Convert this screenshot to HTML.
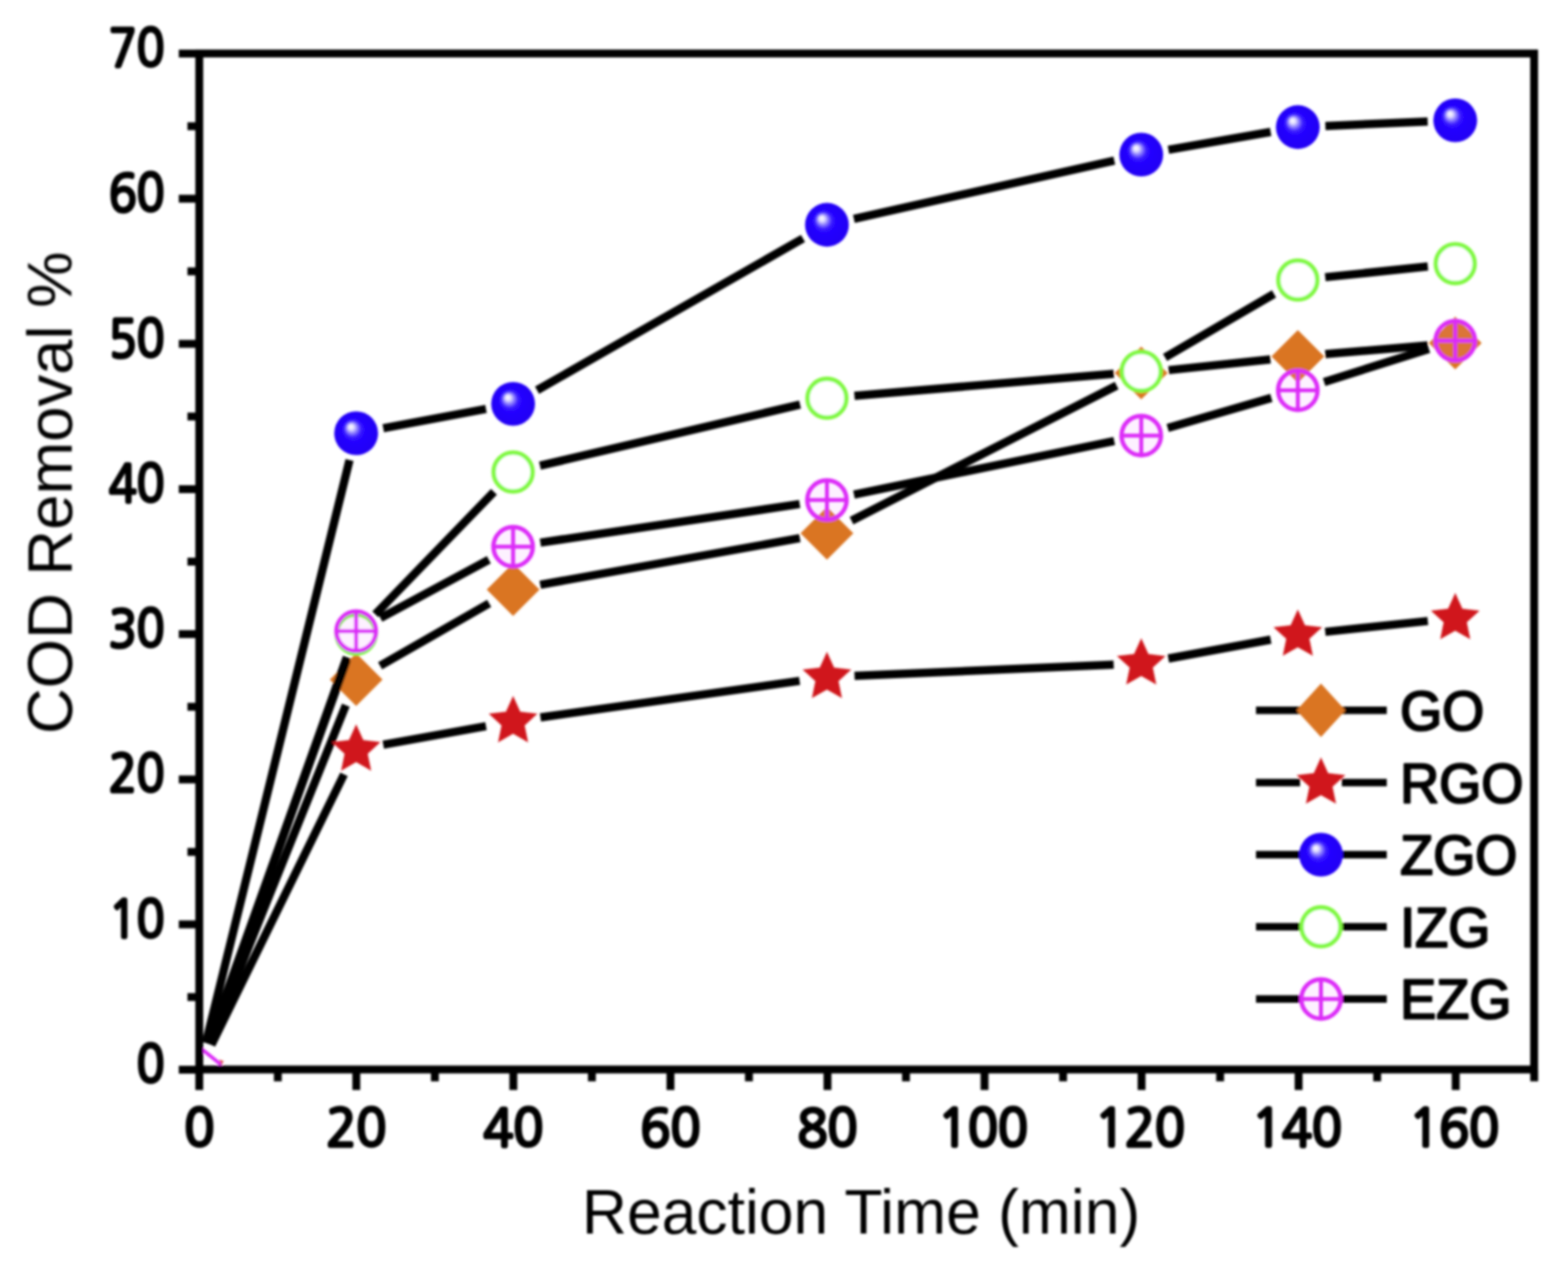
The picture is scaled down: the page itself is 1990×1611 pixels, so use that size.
<!DOCTYPE html><html><head><meta charset="utf-8"><title>COD Removal</title><style>html,body{margin:0;padding:0;background:#fff;overflow:hidden;}svg{display:block;}text{font-family:"Liberation Sans",Arial,sans-serif;}text.n{font-family:NanumGothic,"Liberation Sans",sans-serif;}</style></head><body>
<svg width="1990" height="1611" viewBox="0 0 1990 1611">
<defs><radialGradient id="sph" cx="0.5" cy="0.5" r="0.5" fx="0.37" fy="0.34" gradientUnits="objectBoundingBox"><stop offset="0" stop-color="#ffffff"/><stop offset="0.12" stop-color="#e4e0ff"/><stop offset="0.22" stop-color="#9c90ff"/><stop offset="0.38" stop-color="#3c1cff"/><stop offset="0.55" stop-color="#2200ff"/><stop offset="1" stop-color="#2000f4"/></radialGradient><filter id="soft" x="-2%" y="-2%" width="104%" height="104%"><feGaussianBlur stdDeviation="1.60"/></filter></defs>
<rect width="1990" height="1611" fill="#fff"/>
<g filter="url(#soft)">
<path d="M266.0,1325.4 L438.9,895.2 M482.4,845.3 L620.8,766.0 M685.6,742.4 L1015.1,683.1 M1080.7,661.0 L1417.2,489.5 M1483.2,469.9 L1612.3,456.3 M1682.0,449.6 L1812.0,438.4" stroke="#000" stroke-width="10.5" fill="none"/>
<path d="M452.0,829.2 L485.5,862.7 L452.0,896.2 L418.5,862.7 Z" fill="#da7422"/>
<path d="M651.2,715.1 L684.7,748.6 L651.2,782.1 L617.7,748.6 Z" fill="#da7422"/>
<path d="M1049.5,643.4 L1083.0,676.9 L1049.5,710.4 L1016.0,676.9 Z" fill="#da7422"/>
<path d="M1448.4,440.1 L1481.9,473.6 L1448.4,507.1 L1414.9,473.6 Z" fill="#da7422"/>
<path d="M1647.1,419.1 L1680.6,452.6 L1647.1,486.1 L1613.6,452.6 Z" fill="#da7422"/>
<path d="M1846.9,401.9 L1880.4,435.4 L1846.9,468.9 L1813.4,435.4 Z" fill="#da7422"/>
<path d="M268.3,1326.5 L436.6,983.0 M486.4,945.4 L616.8,921.8 M685.9,910.7 L1014.8,864.4 M1084.5,858.0 L1413.4,843.8 M1482.8,836.0 L1612.7,812.0 M1681.9,802.1 L1812.1,788.4" stroke="#000" stroke-width="10.5" fill="none"/>
<path d="M452.0,919.6 L461.1,939.6 L482.9,942.1 L466.7,956.9 L471.1,978.4 L452.0,967.6 L432.9,978.4 L437.3,956.9 L421.1,942.1 L442.9,939.6 Z" fill="#d0161b"/>
<path d="M651.2,883.6 L660.3,903.6 L682.1,906.1 L665.9,920.9 L670.3,942.4 L651.2,931.6 L632.1,942.4 L636.5,920.9 L620.3,906.1 L642.1,903.6 Z" fill="#d0161b"/>
<path d="M1049.5,827.5 L1058.6,847.5 L1080.4,850.0 L1064.2,864.8 L1068.6,886.3 L1049.5,875.5 L1030.4,886.3 L1034.8,864.8 L1018.6,850.0 L1040.4,847.5 Z" fill="#d0161b"/>
<path d="M1448.4,810.3 L1457.5,830.3 L1479.3,832.8 L1463.1,847.6 L1467.5,869.1 L1448.4,858.3 L1429.3,869.1 L1433.7,847.6 L1417.5,832.8 L1439.3,830.3 Z" fill="#d0161b"/>
<path d="M1647.1,773.7 L1656.2,793.7 L1678.0,796.2 L1661.8,811.0 L1666.2,832.5 L1647.1,821.7 L1628.0,832.5 L1632.4,811.0 L1616.2,796.2 L1638.0,793.7 Z" fill="#d0161b"/>
<path d="M1846.9,752.8 L1856.0,772.8 L1877.8,775.3 L1861.6,790.1 L1866.0,811.6 L1846.9,800.8 L1827.8,811.6 L1832.2,790.1 L1816.0,775.3 L1837.8,772.8 Z" fill="#d0161b"/>
<path d="M261.3,1323.9 L443.6,584.0 M486.4,543.6 L616.8,519.1 M681.6,495.4 L1019.1,302.7 M1083.7,277.8 L1414.2,203.9 M1482.9,190.2 L1612.6,167.5 M1682.1,159.9 L1811.9,154.3" stroke="#000" stroke-width="10.5" fill="none"/>
<circle cx="452.0" cy="550.0" r="27.8" fill="url(#sph)"/>
<circle cx="651.2" cy="512.7" r="27.8" fill="url(#sph)"/>
<circle cx="1049.5" cy="285.4" r="27.8" fill="url(#sph)"/>
<circle cx="1448.4" cy="196.3" r="27.8" fill="url(#sph)"/>
<circle cx="1647.1" cy="161.4" r="27.8" fill="url(#sph)"/>
<circle cx="1846.9" cy="152.8" r="27.8" fill="url(#sph)"/>
<path d="M264.8,1325.0 L440.1,837.9 M476.3,779.9 L626.9,624.3 M685.3,591.2 L1015.4,513.6 M1084.4,502.6 L1413.5,474.4 M1478.6,453.8 L1616.9,373.1 M1681.9,351.9 L1812.1,338.3" stroke="#000" stroke-width="10.5" fill="none"/>
<circle cx="452.0" cy="805.0" r="24.7" fill="#fff" stroke="#80f840" stroke-width="5.6"/>
<circle cx="651.2" cy="599.2" r="24.7" fill="#fff" stroke="#80f840" stroke-width="5.6"/>
<circle cx="1049.5" cy="505.6" r="24.7" fill="#fff" stroke="#80f840" stroke-width="5.6"/>
<circle cx="1448.4" cy="471.4" r="24.7" fill="#fff" stroke="#80f840" stroke-width="5.6"/>
<circle cx="1647.1" cy="355.5" r="24.7" fill="#fff" stroke="#80f840" stroke-width="5.6"/>
<circle cx="1846.9" cy="334.7" r="24.7" fill="#fff" stroke="#80f840" stroke-width="5.6"/>
<path d="M264.7,1324.9 L440.2,834.3 M482.8,784.7 L620.4,710.6 M685.8,688.9 L1014.9,639.9 M1083.8,627.8 L1414.1,559.9 M1482.0,543.2 L1613.5,505.1 M1680.5,484.9 L1813.5,443.1" stroke="#000" stroke-width="10.5" fill="none"/>
<g stroke="#dc2af8" stroke-width="5"><circle cx="452.0" cy="801.3" r="25.0" fill="rgba(235,120,255,0.10)" stroke-width="5.5"/><path d="M452.0,776.3 V826.3 M427.0,801.3 H477.0"/></g>
<g stroke="#dc2af8" stroke-width="5"><circle cx="651.2" cy="694.0" r="25.0" fill="rgba(235,120,255,0.10)" stroke-width="5.5"/><path d="M651.2,669.0 V719.0 M626.2,694.0 H676.2"/></g>
<g stroke="#dc2af8" stroke-width="5"><circle cx="1049.5" cy="634.8" r="25.0" fill="rgba(235,120,255,0.10)" stroke-width="5.5"/><path d="M1049.5,609.8 V659.8 M1024.5,634.8 H1074.5"/></g>
<g stroke="#dc2af8" stroke-width="5"><circle cx="1448.4" cy="552.9" r="25.0" fill="rgba(235,120,255,0.10)" stroke-width="5.5"/><path d="M1448.4,527.9 V577.9 M1423.4,552.9 H1473.4"/></g>
<g stroke="#dc2af8" stroke-width="5"><circle cx="1647.1" cy="495.4" r="25.0" fill="rgba(235,120,255,0.10)" stroke-width="5.5"/><path d="M1647.1,470.4 V520.4 M1622.1,495.4 H1672.1"/></g>
<g stroke="#dc2af8" stroke-width="5"><circle cx="1846.9" cy="432.6" r="25.0" fill="rgba(235,120,255,0.10)" stroke-width="5.5"/><path d="M1846.9,407.6 V457.6 M1821.9,432.6 H1871.9"/></g>
<path d="M257,1332.5 L281,1352" fill="none" stroke="#dc2af8" stroke-width="4.5"/>
<path d="M278,1345 L284,1347 L281,1352 Z" fill="#e05050"/>
<rect x="252.9" y="67.9" width="1694.1" height="1289.8" fill="none" stroke="#000" stroke-width="10.0"/>
<path d="M252.9,1357.7 V1383.7 M352.6,1357.7 V1372.7 M452.2,1357.7 V1383.7 M551.9,1357.7 V1372.7 M651.5,1357.7 V1383.7 M751.2,1357.7 V1372.7 M850.9,1357.7 V1383.7 M950.5,1357.7 V1372.7 M1050.2,1357.7 V1383.7 M1149.8,1357.7 V1372.7 M1249.5,1357.7 V1383.7 M1349.2,1357.7 V1372.7 M1448.8,1357.7 V1383.7 M1548.5,1357.7 V1372.7 M1648.1,1357.7 V1383.7 M1747.8,1357.7 V1372.7 M1847.5,1357.7 V1383.7 M1947.1,1357.7 V1372.7 M252.9,1357.9 H226.9 M252.9,1265.8 H237.9 M252.9,1173.6 H226.9 M252.9,1081.5 H237.9 M252.9,989.4 H226.9 M252.9,897.3 H237.9 M252.9,805.1 H226.9 M252.9,713.0 H237.9 M252.9,620.9 H226.9 M252.9,528.7 H237.9 M252.9,436.6 H226.9 M252.9,344.5 H237.9 M252.9,252.3 H226.9 M252.9,160.2 H237.9 M252.9,68.1 H226.9" stroke="#000" stroke-width="10.0" fill="none"/>
<text transform="translate(252.9,1454.8) scale(0.973,1.0)" class="n" font-size="64.5" stroke="#000" stroke-width="4.6" stroke-linejoin="round" text-anchor="middle">0</text>
<text transform="translate(452.2,1454.8) scale(0.973,1.0)" class="n" font-size="64.5" stroke="#000" stroke-width="4.6" stroke-linejoin="round" text-anchor="middle">20</text>
<text transform="translate(651.5,1454.8) scale(0.973,1.0)" class="n" font-size="64.5" stroke="#000" stroke-width="4.6" stroke-linejoin="round" text-anchor="middle">40</text>
<text transform="translate(850.9,1454.8) scale(0.973,1.0)" class="n" font-size="64.5" stroke="#000" stroke-width="4.6" stroke-linejoin="round" text-anchor="middle">60</text>
<text transform="translate(1050.2,1454.8) scale(0.973,1.0)" class="n" font-size="64.5" stroke="#000" stroke-width="4.6" stroke-linejoin="round" text-anchor="middle">80</text>
<text transform="translate(1247.5,1454.8) scale(0.973,1.0)" class="n" font-size="64.5" stroke="#000" stroke-width="4.6" stroke-linejoin="round" text-anchor="middle">100</text>
<text transform="translate(1446.8,1454.8) scale(0.973,1.0)" class="n" font-size="64.5" stroke="#000" stroke-width="4.6" stroke-linejoin="round" text-anchor="middle">120</text>
<text transform="translate(1646.1,1454.8) scale(0.973,1.0)" class="n" font-size="64.5" stroke="#000" stroke-width="4.6" stroke-linejoin="round" text-anchor="middle">140</text>
<text transform="translate(1845.5,1454.8) scale(0.973,1.0)" class="n" font-size="64.5" stroke="#000" stroke-width="4.6" stroke-linejoin="round" text-anchor="middle">160</text>
<text transform="translate(208.6,1373.9) scale(0.90,1.0)" class="n" font-size="64.5" stroke="#000" stroke-width="4.6" stroke-linejoin="round" text-anchor="end">0</text>
<text transform="translate(208.6,1189.6) scale(0.90,1.0)" class="n" font-size="64.5" stroke="#000" stroke-width="4.6" stroke-linejoin="round" text-anchor="end">10</text>
<text transform="translate(208.6,1005.4) scale(0.90,1.0)" class="n" font-size="64.5" stroke="#000" stroke-width="4.6" stroke-linejoin="round" text-anchor="end">20</text>
<text transform="translate(208.6,821.1) scale(0.90,1.0)" class="n" font-size="64.5" stroke="#000" stroke-width="4.6" stroke-linejoin="round" text-anchor="end">30</text>
<text transform="translate(208.6,636.9) scale(0.90,1.0)" class="n" font-size="64.5" stroke="#000" stroke-width="4.6" stroke-linejoin="round" text-anchor="end">40</text>
<text transform="translate(208.6,452.6) scale(0.90,1.0)" class="n" font-size="64.5" stroke="#000" stroke-width="4.6" stroke-linejoin="round" text-anchor="end">50</text>
<text transform="translate(208.6,268.3) scale(0.90,1.0)" class="n" font-size="64.5" stroke="#000" stroke-width="4.6" stroke-linejoin="round" text-anchor="end">60</text>
<text transform="translate(208.6,84.1) scale(0.90,1.0)" class="n" font-size="64.5" stroke="#000" stroke-width="4.6" stroke-linejoin="round" text-anchor="end">70</text>
<text transform="translate(1092.8,1566) scale(1.0,1.0)" font-size="79.2" text-anchor="middle">Reaction Time (min)</text>
<text transform="translate(91,625.6) rotate(-90) scale(1.0,0.985)" font-size="80.5" text-anchor="middle">COD Removal %</text>
<path d="M1594,901.8 H1650 M1703,901.8 H1760" stroke="#000" stroke-width="9.5"/>
<path d="M1676.5,867.8 L1707.5,901.8 L1676.5,935.8 L1645.5,901.8 Z" fill="#da7422"/>
<text transform="translate(1777,927.0) scale(1,1.03)" font-size="68.6" stroke="#000" stroke-width="2.6" stroke-linejoin="round">GO</text>
<path d="M1594,993.4 H1650 M1703,993.4 H1760" stroke="#000" stroke-width="9.5"/>
<path d="M1676.5,961.4 L1685.6,981.4 L1707.4,983.9 L1691.2,998.7 L1695.6,1020.2 L1676.5,1009.4 L1657.4,1020.2 L1661.8,998.7 L1645.6,983.9 L1667.4,981.4 Z" fill="#d0161b"/>
<text transform="translate(1777,1018.6) scale(1,1.03)" font-size="68.6" stroke="#000" stroke-width="2.6" stroke-linejoin="round">RGO</text>
<path d="M1594,1085.0 H1650 M1703,1085.0 H1760" stroke="#000" stroke-width="9.5"/>
<circle cx="1676.5" cy="1085.0" r="27.8" fill="url(#sph)"/>
<text transform="translate(1777,1110.2) scale(1,1.03)" font-size="68.6" stroke="#000" stroke-width="2.6" stroke-linejoin="round">ZGO</text>
<path d="M1594,1176.6 H1650 M1703,1176.6 H1760" stroke="#000" stroke-width="9.5"/>
<circle cx="1676.5" cy="1176.6" r="24.7" fill="#fff" stroke="#80f840" stroke-width="5.6"/>
<text transform="translate(1777,1201.8) scale(1,1.03)" font-size="68.6" stroke="#000" stroke-width="2.6" stroke-linejoin="round">IZG</text>
<path d="M1594,1268.2 H1650 M1703,1268.2 H1760" stroke="#000" stroke-width="9.5"/>
<g stroke="#dc2af8" stroke-width="5"><circle cx="1676.5" cy="1268.2" r="25.0" fill="rgba(235,120,255,0.10)" stroke-width="5.5"/><path d="M1676.5,1243.2 V1293.2 M1651.5,1268.2 H1701.5"/></g>
<text transform="translate(1777,1293.4) scale(1,1.03)" font-size="68.6" stroke="#000" stroke-width="2.6" stroke-linejoin="round">EZG</text>
</g></svg></body></html>
